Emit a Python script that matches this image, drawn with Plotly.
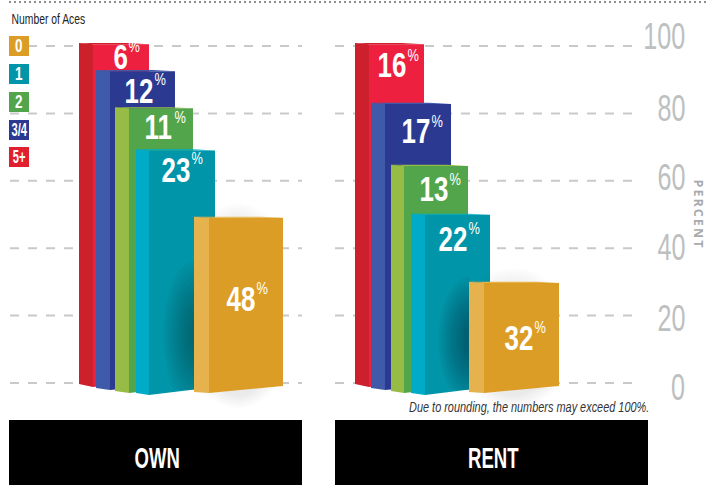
import json
import numpy as np
import plotly.graph_objects as go

# ---------- data ----------
categories = ["5+", "3/4", "2", "1", "0"]            # back to front
own_labels = [6, 12, 11, 23, 48]
rent_labels = [16, 17, 13, 22, 32]
own_tops = [100.5, 92.5, 81.5, 69.0, 49.0]           # bar heights
rent_tops = [100.5, 82.8, 64.4, 49.9, 29.7]
y_ticks = [0, 20, 40, 60, 80, 100]
legend_order = ["0", "1", "2", "3/4", "5+"]
panels = ["OWN", "RENT"]
footnote = "Due to rounding, the numbers may exceed 100%."

# ---------- styles / geometry ----------
W, H = 707, 485
Y0, PX_PER = 383.0, 3.37
FONT = "Liberation Sans, Arial, sans-serif"
front = {"5+": "#ED2040", "3/4": "#2B3990", "2": "#52A54A", "1": "#0095A8", "0": "#DC9D27"}
side = {"5+": "#CC202C", "3/4": "#3F5AA8", "2": "#97BC45", "1": "#00ABC8", "0": "#E5B24E"}
legend_fill = {"0": "#DC9D27", "1": "#0095A8", "2": "#52A54A", "3/4": "#2B3990", "5+": "#E0202F"}
# side left, front left, front right, bottom at side left / front left / front right
own_geo = [(79, 93, 149, 384, 387, 382), (96, 110, 175, 388, 390, 384),
           (115, 129, 193, 391, 393, 386), (136, 149, 215, 393, 395, 387), (194, 209, 283, 392, 393, 386)]
rent_geo = [(355, 369, 424, 384, 387, 382), (371, 385, 451, 388, 390, 384),
            (391, 404, 468, 391, 393, 386), (411, 425, 490, 393, 395, 387), (469, 484, 559, 392, 393, 386)]
own_text = [(111.5, 56), (123, 90), (143, 127), (160, 169), (225, 298)]
rent_text = [(376, 65), (400, 131), (418, 189), (437, 238), (503, 337)]


def v(py):
    return (Y0 - py) / PX_PER


fig = go.Figure()


def poly(xs, pys, color):
    fig.add_trace(go.Scatter(x=list(xs), y=[v(p) for p in pys], mode="lines", fill="toself",
                             fillcolor=color, line=dict(width=0), hoverinfo="skip", showlegend=False))


def ellipse_pts(cx, cy, rx, ry):
    t = np.linspace(0, 2 * np.pi, 60)
    return cx + rx * np.cos(t), cy + ry * np.sin(t)


def draw_group(tops, geo, shadow_y, shadow_ry, shadow_alpha):
    for cat, top, g in zip(categories, tops, geo):
        sl, fl, fr, *_ = g
        fig.add_trace(go.Bar(x=[(fl + fr) / 2], y=[top], width=[fr - fl], base=0,
                             marker=dict(color=front[cat], line=dict(width=0)),
                             showlegend=False, hoverinfo="skip"))
    for cat, top, g in zip(categories, tops, geo):
        sl, fl, fr, b_sl, b_fl, b_fr = g
        py_top = Y0 - top * PX_PER
        if cat == "0":
            bot = max(b_fl, b_fr)
            # soft halo: only the parts that stick out above and below the front bar
            for k in range(7):
                ex, ey = ellipse_pts((fl + fr) / 2 - 8, (py_top + bot) / 2, 44 + k * 3,
                                     (bot - py_top) / 2 + 3 + k * 2.0)
                poly(ex, np.minimum(ey, py_top - 1), "rgba(60,70,80,0.012)")
                poly(ex, np.maximum(ey, bot - 5), "rgba(60,70,80,0.016)")
            # dark shadow cast to the left on the teal bar, kept inside the teal bar
            for k in range(12):
                ex, ey = ellipse_pts(sl + 1, shadow_y, 4 + k * 2.5, 14 + k * shadow_ry)
                poly(np.minimum(ex, sl + 1), np.minimum(ey, b_fl - 3), f"rgba(15,40,50,{shadow_alpha})")
        poly([fl, fl, fr, fr], [Y0 - 3, b_fl, b_fr, Y0 - 3], front[cat])          # sloped foot
        poly([sl, fr - 22, fr, fl], [py_top - 1.2, py_top - 1.2, py_top, py_top], side[cat])  # lit top
        poly([sl, fl, fl, sl], [py_top - 1.2, py_top, b_fl, b_sl], side[cat])     # side face


draw_group(own_tops, own_geo, 335, 5.5, 0.042)
draw_group(rent_tops, rent_geo, 340, 4.5, 0.05)

# ---------- layout pieces ----------
shapes = []
for t in y_ticks:
    for x0, x1 in [(10, 302), (335, 640)]:
        shapes.append(dict(type="line", xref="x", yref="y", x0=x0, x1=x1, y0=t, y1=t, layer="below",
                           line=dict(color="#C8C9CB", width=2, dash="9px,9px")))
shapes.append(dict(type="line", xref="x", yref="y", x0=9, x1=707, y0=v(2), y1=v(2), layer="below",
                   line=dict(color="#8E8E8E", width=2, dash="2px,3px")))

ann, squeeze = [], []


def txt(x, y, s, size, color="#FFFFFF", xanchor="center", squeeze_x=1.0, weight="normal", style="normal",
        family=FONT, **kw):
    ann.append(dict(xref="paper", yref="paper", x=x / W, y=1 - y / H, text=s, showarrow=False, xanchor=xanchor,
                    yanchor="middle",
                    font=dict(family=family, size=size, color=color, weight=weight, style=style), **kw))
    squeeze.append(squeeze_x)


# legend
txt(10, 19, "Number of Aces", 14, "#222222", xanchor="left", squeeze_x=0.74)
for cat, py in zip(legend_order, [36, 64, 92, 120, 147]):
    shapes.append(dict(type="rect", xref="x", yref="y", x0=9, x1=29, y0=v(py), y1=v(py + 20),
                       fillcolor=legend_fill[cat], line=dict(width=0), layer="above"))
    txt(19, py + 10, cat, 18, weight="bold", squeeze_x=0.62 if cat in ("3/4", "5+") else 0.75)
# bar value labels
for labs, pos in [(own_labels, own_text), (rent_labels, rent_text)]:
    for lab, (x, y) in zip(labs, pos):
        txt(x, y, str(lab), 35, xanchor="left", weight="bold", squeeze_x=0.74)
        txt(x + (15 if lab < 10 else 29.5), y - 10, "%", 16, xanchor="left", squeeze_x=0.8)
# tick labels
for t, py in zip(y_ticks, [387, 318, 248, 177, 109, 36.5]):
    txt(687, py, str(t), 37, "#BDBFC1", xanchor="right", squeeze_x=0.68)
txt(698.5, 213, "P\u2009E\u2009R\u2009C\u2009E\u2009N\u2009T", 12.5, "#A8AAAC", weight="bold", family="Open Sans", textangle=90)
# footnote
txt(651, 407, footnote, 14, "#333333", xanchor="right", style="italic", squeeze_x=0.78)
# panels
for name, (x0, x1) in zip(panels, [(9, 302), (335, 648)]):
    shapes.append(dict(type="rect", xref="x", yref="y", x0=x0, x1=x1, y0=v(420), y1=v(485),
                       fillcolor="#000000", line=dict(width=0), layer="above"))
    txt((x0 + x1) / 2 + (2 if name == "OWN" else 1.5), 458, name, 29, weight="bold", squeeze_x=0.64)

fig.update_layout(
    width=W, height=H, margin=dict(l=0, r=0, t=0, b=0), paper_bgcolor="white", plot_bgcolor="white",
    barmode="overlay", showlegend=False, shapes=shapes, annotations=ann,
    xaxis=dict(range=[0, W], visible=False, fixedrange=True),
    yaxis=dict(range=[v(H), v(0)], visible=False, fixedrange=True),
)

# the reference uses a condensed face: none is installed, so the text is squeezed horizontally after drawing
post = """
document.body.style.margin = '0';
var sq = %s;
var gd = document.getElementById('{plot_id}');
gd.querySelectorAll('.annotation').forEach(function (a) {
  var i = +a.getAttribute('data-index'), f = sq[i];
  if (f === 1) return;
  var r = a.querySelector('rect'), t = a.querySelector('text');
  var w = +r.getAttribute('width'), anc = gd.layout.annotations[i].xanchor;
  var ox = anc === 'left' ? 0 : (anc === 'right' ? w : w / 2);
  t.setAttribute('transform', 'translate(' + ox + ',0) scale(' + f + ',1) translate(' + (-ox) + ',0)');
});
""" % json.dumps(squeeze)
fig.write_html("out.html", config={"displayModeBar": False}, post_script=post)
